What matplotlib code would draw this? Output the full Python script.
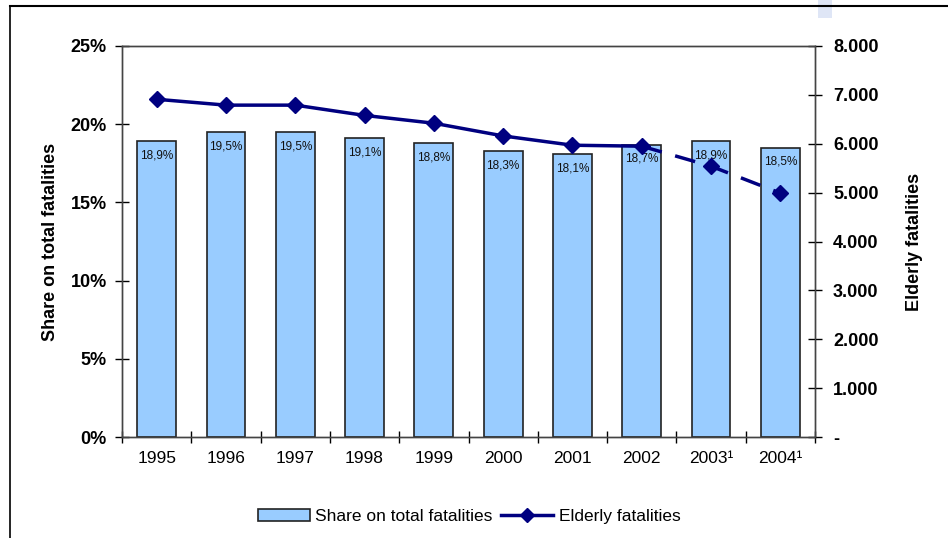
import matplotlib
matplotlib.use("Agg")
import matplotlib.pyplot as plt
from matplotlib.lines import Line2D
from matplotlib.patches import Patch, Rectangle
from matplotlib.ticker import FuncFormatter

plt.rcParams['font.family'] = ['Liberation Sans', 'DejaVu Sans']

years = ['1995', '1996', '1997', '1998', '1999', '2000', '2001', '2002', '2003¹', '2004¹']
share = [18.9, 19.5, 19.5, 19.1, 18.8, 18.3, 18.1, 18.7, 18.9, 18.5]
elderly = [6910, 6790, 6790, 6580, 6420, 6160, 5970, 5950, 5540, 4990]
# last year with final figures; later years are provisional (dashed)
last_final = 7

bar_color = '#99ccff'
line_color = '#000080'

fig = plt.figure(figsize=(9.48, 5.38), dpi=100)
ax = fig.add_axes([0.1287, 0.1877, 0.7310, 0.7268])
ax2 = ax.twinx()

x = list(range(len(years)))
ax.bar(x, share, width=0.56, color=bar_color, edgecolor='#222222', linewidth=1.2, zorder=2)
for xi, v in zip(x, share):
    ax.annotate(f"{v:.1f}%".replace('.', ','), (xi, v), xytext=(0, -6), textcoords='offset points',
                ha='center', va='top', fontsize=8.5, color='#111111')

ax2.plot(x[:last_final + 1], elderly[:last_final + 1], color=line_color, lw=2.5, zorder=3)
ax2.plot(x[last_final:], elderly[last_final:], color=line_color, lw=2.5, dashes=(6, 4), zorder=3)
ax2.plot(x, elderly, ls='none', marker='D', ms=8.5, color=line_color, zorder=4)

ax.set_xlim(-0.5, len(years) - 0.5)
ax.set_ylim(0, 25)
ax2.set_ylim(0, 8000)
ax.set_yticks(range(0, 26, 5))
ax.yaxis.set_major_formatter(FuncFormatter(lambda v, p: f"{int(v)}%"))
ax2.set_yticks(range(0, 8001, 1000))
ax2.yaxis.set_major_formatter(FuncFormatter(lambda v, p: '-' if v == 0 else f"{int(v):,}".replace(',', '.')))

ax.set_xticks([i - 0.5 for i in range(len(years) + 1)])
ax.set_xticklabels([])
ax.set_xticks(x, minor=True)
ax.set_xticklabels(years, minor=True, fontsize=12.5)
ax.tick_params(axis='x', which='minor', length=0, pad=10)
ax.tick_params(axis='x', which='major', direction='inout', length=8, width=1)
ax.tick_params(axis='y', direction='inout', length=10, width=1, labelsize=13, pad=6)
ax2.tick_params(axis='y', direction='inout', length=10, width=1, labelsize=13, pad=8)
for lab in ax.get_yticklabels() + ax2.get_yticklabels():
    lab.set_fontweight('bold')

for a in (ax, ax2):
    for s in a.spines.values():
        s.set_color('#444444')
        s.set_linewidth(1)

ax.set_ylabel('Share on total fatalities', fontsize=13, fontweight='bold', labelpad=8)
ax2.set_ylabel('Elderly fatalities', fontsize=13, fontweight='bold', labelpad=20, rotation=90)

handles = [Patch(facecolor=bar_color, edgecolor='#222222', linewidth=1.2),
           Line2D([], [], color=line_color, lw=2.5, marker='D', ms=7)]
fig.legend(handles, ['Share on total fatalities', 'Elderly fatalities'], loc='center',
           bbox_to_anchor=(0.495, 0.04), ncol=2, frameon=False, fontsize=12.5,
           handlelength=3, handletextpad=0.3, columnspacing=0.5)

# outer frame of the chart area
fig.add_artist(Line2D([10 / 948, 1], [1 - 6 / 538, 1 - 6 / 538], color='black', lw=1.5))
fig.add_artist(Line2D([10 / 948, 10 / 948], [0, 1 - 6 / 538], color='black', lw=1.2))
fig.add_artist(Rectangle((818 / 948, 1 - 18 / 538), 14 / 948, 18 / 538,
                         facecolor='#dfe6f6', edgecolor='none', zorder=-1))

fig.savefig('out.png', dpi=100)
